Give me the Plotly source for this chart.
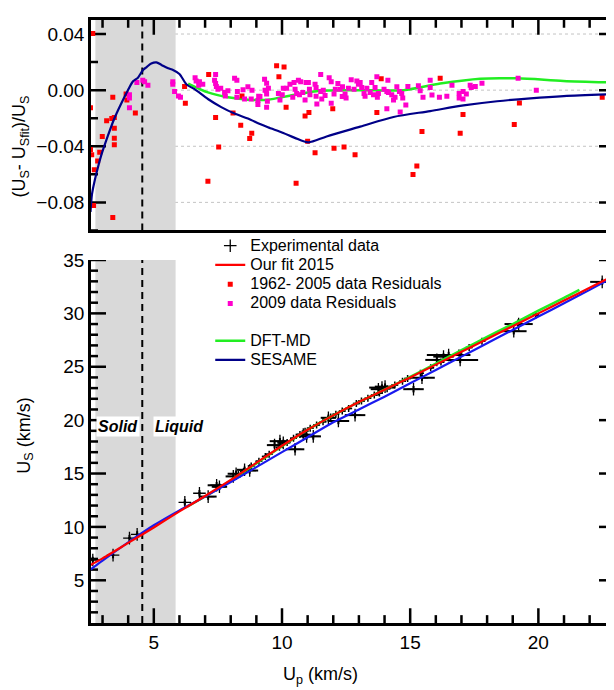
import plotly.graph_objects as go

# ---------------- data ----------------
fit_up = [2.5, 3, 4, 5, 6, 7, 8, 9, 10, 11, 12, 13, 14, 15, 16, 17, 18, 19, 20, 21, 22, 23]
fit_us = [6.4, 7.05, 8.5, 9.95, 11.45, 12.9, 14.4, 16.0, 17.6, 19.1, 20.45, 21.7, 22.85, 24.0,
          25.2, 26.4, 27.6, 28.8, 30.0, 31.2, 32.4, 33.6]

ses_up = [2.5, 3, 4, 5, 6, 7, 8, 9, 10, 11, 12, 13, 14, 15, 16, 17, 18, 19, 20, 21, 22, 23]
ses_us = [5.95, 6.85, 8.55, 10.15, 11.55, 12.85, 14.2, 15.6, 17.0, 18.4, 19.8, 21.0, 22.2, 23.45,
          24.7, 25.95, 27.2, 28.45, 29.7, 30.95, 32.2, 33.5]

dft_up = [6.3, 7, 8, 9, 10, 11, 12, 13, 14, 15, 16, 17, 18, 19, 20, 21, 21.6]
dft_us = [11.9, 12.85, 14.35, 15.95, 17.55, 19.1, 20.45, 21.7, 22.85, 24.05, 25.3, 26.55, 27.8,
          29.0, 30.25, 31.45, 32.2]

exp_up = [2.62, 3.41, 4.05, 4.35, 6.21, 6.78, 7.12, 7.45, 7.56, 8.10, 8.21, 8.54, 8.74, 9.71, 9.92,
          10.05, 10.51, 10.83, 10.96, 11.22, 11.81, 12.20, 12.85, 13.76, 13.90, 14.02, 15.13, 15.46,
          16.04, 16.30, 16.50, 16.95, 19.04, 19.23, 22.49]
exp_us = [6.9, 7.36, 8.95, 9.3, 12.3, 13.15, 12.84, 13.9, 13.76, 14.73, 14.98, 15.35, 15.28, 17.66,
          18.03, 17.87, 17.27, 18.64, 18.48, 18.48, 20.22, 19.92, 20.47, 22.9, 23.05, 23.14, 22.9,
          23.97, 25.64, 25.95, 26.1, 25.64, 28.33, 29.0, 32.95]
exp_xerr = [0.05, 0.05, 0.05, 0.05, 0.05, 0.05, 0.33, 0.35, 0.3, 0.3, 0.33, 0.3, 0.33, 0.3, 0.4,
            0.2, 0.36, 0.3, 0.3, 0.3, 0.3, 0.42, 0.4, 0.3, 0.5, 0.4, 0.4, 0.5, 0.45, 0.4, 0.85,
            0.7, 0.5, 0.55, 0.47]

e09_up = [8.3, 8.5, 8.8, 9.1, 9.35, 9.5, 9.9, 10.2, 10.45, 10.7, 10.9, 11.1, 11.35, 11.6, 11.9,
          12.1, 12.35, 12.6, 12.9, 13.1, 13.35, 13.6, 13.8, 14.1, 14.4, 14.7, 14.9, 15.4, 15.8,
          16.2, 16.9, 17.3, 17.8, 19.2, 19.9]
e09_us = [14.9, 15.2, 15.7, 16.15, 16.6, 16.8, 17.45, 17.9, 18.3, 18.65, 18.95, 19.25, 19.55,
          19.85, 20.3, 20.55, 20.85, 21.1, 21.55, 21.8, 22.05, 22.35, 22.55, 22.95, 23.3, 23.65,
          23.9, 24.4, 24.9, 25.45, 26.3, 26.8, 27.4, 29.1, 29.85]

r62_up = [2.62, 3.40, 2.53, 3.16, 3.36, 3.46, 3.46, 2.99, 3.46, 3.46, 2.53, 2.58, 2.89, 2.81, 2.68,
          2.65, 3.40, 3.92, 3.95, 4.28, 6.20, 6.23, 7.14, 7.41, 8.09, 8.39, 8.82, 8.74, 7.53, 7.11,
          8.44, 9.79, 10.08, 9.88, 10.16, 10.90, 11.05, 11.0, 11.29, 10.55, 11.98, 12.03, 12.42,
          12.85, 13.70, 13.87, 15.46, 15.26, 15.11, 16.17, 17.06, 16.95, 19.26, 19.06, 22.49]
r62_res = [0.0403, -0.0051, -0.0126, -0.0218, -0.0202, -0.0195, -0.0272, -0.033, -0.0342, -0.039,
           -0.0423, -0.046, -0.0442, -0.0505, -0.0567, -0.0823, -0.0907, -0.0028, -0.007, -0.0163,
           0.0026, -0.0093, 0.0112, -0.0195, -0.0163, -0.0251, -0.0307, -0.0344, -0.0405, -0.0649,
           -0.0042, 0.0174, 0.0165, 0.0096, -0.0121, -0.0184, -0.016, -0.0365, -0.0447, -0.0663,
           -0.0133, -0.0414, -0.0405, -0.046, -0.016, 0.0082, -0.0295, -0.054, -0.0602, 0.0084,
           -0.0174, -0.0307, -0.0091, -0.0244, -0.0051]

r09_up = [4.34, 4.57, 4.64, 4.77, 4.05, 4.05, 4.05, 5.74, 5.74, 5.81, 5.96, 6.04, 6.61, 6.65, 6.78,
          6.91, 6.75, 7.37, 7.41, 7.44, 7.50, 7.61, 7.41, 7.76, 7.79, 7.89, 8.15, 8.24, 8.26, 8.24,
          8.48, 8.67, 8.83, 8.80, 8.54, 9.06, 9.06, 9.09, 9.32, 9.39, 9.40, 9.40, 9.34, 9.47, 9.40,
          9.43, 9.86, 9.92, 10.01, 10.05, 10.18, 10.31, 10.42, 10.47, 10.51, 10.57, 10.64, 10.73,
          10.68, 10.81, 10.90, 10.94, 11.03, 11.07, 11.09, 11.29, 11.33, 11.33, 11.36, 11.51,
          11.51, 11.55, 11.61, 11.68, 11.84, 11.92, 11.92, 12.03, 12.08, 12.18, 12.27, 12.36,
          12.35, 12.46, 12.50, 12.59, 12.70, 12.81, 12.92, 12.98, 13.05, 13.11, 13.20, 13.24,
          13.31, 13.44, 13.50, 13.57, 13.63, 13.70, 13.72, 13.76, 13.98, 14.09, 14.09, 14.13,
          14.15, 14.28, 14.35, 14.41, 14.48, 14.58, 14.61, 14.67, 14.71, 14.83, 14.91, 15.32,
          15.39, 15.50, 15.78, 15.78, 15.85, 16.14, 16.43, 16.63, 16.91, 16.91, 17.06, 17.06,
          17.19, 17.34, 17.38, 17.54, 17.80, 19.21, 19.92, 9.14]
r09_res = [0.0054, 0.007, 0.006, 0.0035, -0.0032, -0.0056, -0.0126, 0.006, 0.0042, -0.0009, -0.0042,
           -0.0051, 0.0089, 0.0066, 0.006, 0.0042, 0.0035, 0.007, 0.0047, 0.0026, 0.0007, 0.0014,
           0.0112, -0.0016, -0.0042, -0.0004, 0.0084, 0.007, -0.0009, -0.0051, 0.0003, 0.0024, 0.0,
           -0.0063, -0.0063, -0.0074, -0.0102, -0.0044, 0.0077, -0.0004, -0.0121, 0.0049, 0.0,
           0.0014, -0.0028, -0.0079, -0.0023, -0.007, -0.0032, 0.0014, 0.0014, 0.0042, -0.0051,
           0.0054, 0.0007, -0.0023, 0.007, 0.006, -0.0032, -0.0016, -0.007, 0.0054, 0.0054, 0.0007,
           -0.0032, 0.0042, 0.0019, -0.0044, -0.0098, 0.0112, -0.0009, -0.0063, 0.0, -0.0039,
           0.0089, 0.006, -0.0093, -0.0028, 0.0007, 0.0047, 0.0007, 0.0024, -0.0046, -0.0028,
           -0.0056, 0.0014, 0.0075, 0.0007, 0.0066, 0.0042, 0.0054, 0.0019, -0.0023, -0.0044,
           0.0014, -0.0016, 0.0054, -0.0032, 0.0019, 0.0096, -0.0051, -0.0023, 0.0007, -0.0009,
           -0.0133, 0.007, -0.0016, -0.0032, -0.007, -0.0051, 0.0024, -0.0009, -0.0156, -0.0023,
           -0.0056, -0.0105, 0.0026, 0.0031, -0.0004, -0.0051, 0.007, 0.0019, -0.0035, -0.0051,
           -0.0044, 0.0035, -0.0023, -0.0056, -0.0009, -0.0063, -0.0028, 0.0035, 0.0019, 0.0026,
           0.0049, 0.0084, 0.0, -0.0046]

ses_r_up = [2.53, 2.59, 2.68, 2.85, 2.94, 3.20, 3.46, 3.72, 3.98, 4.19, 4.38, 4.58, 4.71, 4.90, 5.10,
            5.30, 5.56, 5.75, 6.00, 6.28, 6.59, 7.11, 7.63, 8.15, 8.67, 9.14, 9.45, 10.05, 10.50,
            11.03, 11.74, 13.05, 14.35, 15.78, 17.08, 18.39, 19.69, 20.99, 22.98]
ses_r = [-0.0868, -0.074, -0.0656, -0.053, -0.047, -0.033, -0.0202, -0.0098, -0.0004, 0.0063,
         0.0089, 0.0144, 0.0163, 0.019, 0.0198, 0.018, 0.0156, 0.0144, 0.0115, 0.004, 0.0007,
         -0.0063, -0.0121, -0.0167, -0.0202, -0.0242, -0.0265, -0.0305, -0.034, -0.0372, -0.033,
         -0.026, -0.0191, -0.0149, -0.0109, -0.0079, -0.0058, -0.0042, -0.0028]
dft_r_up = [6.34, 7.11, 7.89, 8.67, 9.01, 9.45, 10.44, 11.48, 13.05, 14.74, 16.17, 17.73, 19.17,
            20.98, 22.98]
dft_r = [0.0047, -0.0016, -0.0051, -0.0068, -0.007, -0.0068, -0.0035, -0.0004, 0.0, 0.0, 0.0047,
         0.0082, 0.0084, 0.0066, 0.0054]

solid_liquid_x = [2.72, 5.85]
melt_x = 4.55
phase_labels = ["Solid", "Liquid"]
phase_label_x = [3.6, 6.02]
phase_label_y = 19.4
res_grid = [0.04, 0.0, -0.04, -0.08]

# tick positions
x_major = [5, 10, 15, 20]
x_minor = [v for v in range(3, 23) if v % 5]
us_major = [5, 10, 15, 20, 25, 30, 35]
us_minor = [v for v in range(2, 35) if v % 5]
res_major = [-0.08, -0.04, 0.0, 0.04]
res_minor = [-0.1, -0.06, -0.02, 0.02]

x_range = [2.55, 22.95]
us_range = [1, 35]
res_range = [-0.1, 0.05]
font_family = "Liberation Sans, Arial, Helvetica, sans-serif"

# ---------------- geometry ----------------
W, H = 614, 690
M = dict(l=83, r=8, t=2, b=75)
dom_bottom = [0, 0.602]
dom_top = [0.651, 1]
plot_w = W - M["l"] - M["r"]
plot_h = H - M["t"] - M["b"]
px_per_x = plot_w / (x_range[1] - x_range[0])
px_per_us = plot_h * (dom_bottom[1] - dom_bottom[0]) / (us_range[1] - us_range[0])
px_per_res = plot_h * (dom_top[1] - dom_top[0]) / (res_range[1] - res_range[0])
MAJ, MIN_X, MIN_Y = 15, 8, 7

# ---------------- figure ----------------
fig = go.Figure()

RED = "#ff0000"
MAG = "#ff00cc"
NAVY = "#000088"
BLUE = "#1a1aee"
GREEN = "#22ee22"


def lg(name):
    return '<span style="font-size:16px">%s</span>' % name


fig.add_trace(go.Scatter(
    x=exp_up, y=exp_us, mode="markers", name=lg("Experimental data"),
    legendgroup="a", legendrank=1,
    marker=dict(symbol="cross-thin", size=9, color="black", line=dict(color="black", width=1.3)),
    error_x=dict(type="data", array=exp_xerr, color="black", thickness=2, width=0),
    error_y=dict(type="constant", value=0.3, color="black", thickness=2, width=0),
    xaxis="x", yaxis="y"))
fig.add_trace(go.Scatter(
    x=e09_up, y=e09_us, mode="markers", showlegend=False, legendgroup="a",
    marker=dict(symbol="cross-thin", size=5, color="black", line=dict(color="black", width=1.5)),
    error_x=dict(type="constant", value=0.12, color="black", thickness=1.5, width=0),
    error_y=dict(type="constant", value=0.12, color="black", thickness=1.5, width=0),
    xaxis="x", yaxis="y"))
fig.add_trace(go.Scatter(
    x=dft_up, y=dft_us, mode="lines", showlegend=False,
    line=dict(color=GREEN, width=2.5, shape="spline", smoothing=0.6), xaxis="x", yaxis="y"))
fig.add_trace(go.Scatter(
    x=ses_up, y=ses_us, mode="lines", showlegend=False,
    line=dict(color=BLUE, width=2.2, shape="spline", smoothing=0.6), xaxis="x", yaxis="y"))
fig.add_trace(go.Scatter(
    x=fit_up, y=fit_us, mode="lines", name=lg("Our fit 2015"), legendgroup="a", legendrank=2,
    line=dict(color=RED, width=2.2, shape="spline", smoothing=0.6), xaxis="x", yaxis="y"))

fig.add_trace(go.Scatter(
    x=dft_r_up, y=dft_r, mode="lines", name=lg("DFT-MD"), legendgroup="b", legendrank=5,
    line=dict(color=GREEN, width=2.5, shape="spline", smoothing=0.8), xaxis="x2", yaxis="y2"))
fig.add_trace(go.Scatter(
    x=r62_up, y=r62_res, mode="markers", name=lg("1962- 2005 data Residuals"),
    legendgroup="a", legendrank=3,
    marker=dict(symbol="square", size=5, color=RED), xaxis="x2", yaxis="y2"))
fig.add_trace(go.Scatter(
    x=r09_up, y=r09_res, mode="markers", name=lg("2009 data Residuals"),
    legendgroup="a", legendrank=4,
    marker=dict(symbol="square", size=5, color=MAG), xaxis="x2", yaxis="y2"))
fig.add_trace(go.Scatter(
    x=ses_r_up, y=ses_r, mode="lines", name=lg("SESAME"), legendgroup="b", legendrank=6,
    line=dict(color=NAVY, width=2.2, shape="spline", smoothing=0.8), xaxis="x2", yaxis="y2"))

shapes = []
for gv in res_grid:
    shapes.append(dict(type="line", xref="x2", yref="y2", x0=x_range[0], x1=x_range[1],
                       y0=gv, y1=gv, line=dict(color="#c4c4c4", width=1, dash="dot"),
                       layer="below"))
for xr, yr, yrg in (("x", "y", us_range), ("x2", "y2", res_range)):
    shapes.append(dict(type="rect", xref=xr, yref=yr, x0=solid_liquid_x[0], x1=solid_liquid_x[1],
                       y0=yrg[0], y1=yrg[1], fillcolor="#d9d9d9", line=dict(width=0),
                       layer="below"))
    shapes.append(dict(type="line", xref=xr, yref=yr, x0=melt_x, x1=melt_x, y0=yrg[0], y1=yrg[1],
                       line=dict(color="black", width=2, dash="7px,5px"), layer="below"))

# inward tick marks drawn as short segments in data units (same way as the dashed line)
TICK = dict(color="black", width=2.5)


def vtick(xr, yr, v, y_from, length):
    shapes.append(dict(type="line", xref=xr, yref=yr, x0=v, x1=v, y0=y_from, y1=y_from + length,
                       line=TICK, layer="below"))


def htick(xr, yr, v, x_from, length):
    shapes.append(dict(type="line", xref=xr, yref=yr, y0=v, y1=v, x0=x_from, x1=x_from + length,
                       line=TICK, layer="below"))


for v in x_major:
    vtick("x", "y", v, us_range[0], MAJ / px_per_us)
    vtick("x2", "y2", v, res_range[1], -MAJ / px_per_res)
for v in x_minor:
    vtick("x", "y", v, us_range[0], MIN_X / px_per_us)
    vtick("x2", "y2", v, res_range[1], -MIN_X / px_per_res)
for v in us_major:
    htick("x", "y", v, x_range[0], MAJ / px_per_x)
    htick("x", "y", v, x_range[1], -MAJ / px_per_x)
for v in us_minor:
    htick("x", "y", v, x_range[0], MIN_Y / px_per_x)
    htick("x", "y", v, x_range[1], -MIN_Y / px_per_x)
for v in res_major:
    htick("x2", "y2", v, x_range[0], MAJ / px_per_x)
    htick("x2", "y2", v, x_range[1], -MAJ / px_per_x)
for v in res_minor:
    htick("x2", "y2", v, x_range[0], MIN_Y / px_per_x)
    htick("x2", "y2", v, x_range[1], -MIN_Y / px_per_x)

annotations = []
for txt, xx in zip(phase_labels, phase_label_x):
    annotations.append(dict(text="<b><i>%s</i></b>" % txt, x=xx, y=phase_label_y, xref="x", yref="y",
                            showarrow=False, bgcolor="white", borderpad=1,
                            font=dict(size=16, color="black", family=font_family)))
annotations.append(dict(text="(U<sub>S</sub>- U<sub>Sfit</sub>)/U<sub>S</sub>", textangle=-90,
                        x=-0.134, y=0.79, xref="paper", yref="paper", showarrow=False,
                        xanchor="center", yanchor="middle", font=dict(size=18, color="black")))
annotations.append(dict(text="U<sub>S</sub> (km/s)", textangle=-90,
                        x=-0.127, y=0.31, xref="paper", yref="paper", showarrow=False,
                        xanchor="center", yanchor="middle", font=dict(size=18, color="black")))
annotations.append(dict(text="U<sub>p</sub> (km/s)",
                        x=0.438, y=-0.0865, xref="paper", yref="paper", showarrow=False,
                        xanchor="center", yanchor="middle", font=dict(size=18, color="black")))

axis_common = dict(ticks="", showgrid=False, zeroline=False, linecolor="black", linewidth=2.5)

fig.update_layout(
    width=W, height=H,
    margin=M,
    paper_bgcolor="white", plot_bgcolor="white",
    font=dict(family=font_family, size=19, color="black"),
    showlegend=True,
    legend=dict(x=0.228, y=0.65, xanchor="left", yanchor="top", bgcolor="rgba(0,0,0,0)",
                traceorder="grouped", tracegroupgap=18, font=dict(size=12.5), itemwidth=30),
    xaxis=dict(domain=[0, 1], anchor="y", range=x_range, tickvals=x_major, showline=True,
               **axis_common),
    xaxis2=dict(domain=[0, 1], anchor="y2", range=x_range, tickvals=x_major, side="top",
                showticklabels=False, showline=True, mirror=True, **axis_common),
    yaxis=dict(domain=dom_bottom, anchor="x", range=us_range, tickvals=us_major,
               showline=True, **axis_common),
    yaxis2=dict(domain=dom_top, anchor="x2", range=res_range, tickvals=res_major,
                tickformat=".2f", showline=True, **axis_common),
    shapes=shapes,
    annotations=annotations,
)

fig.write_html("out.html")
